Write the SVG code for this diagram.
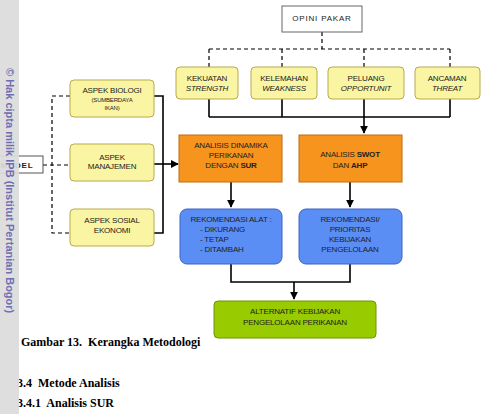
<svg xmlns="http://www.w3.org/2000/svg" width="481" height="414" viewBox="0 0 481 414">
<defs>
<style>
.t{font-family:"Liberation Sans",Arial,sans-serif;font-size:8px;fill:#222;text-anchor:middle;letter-spacing:-0.2px}
.s{font-size:6px}
.i{font-style:italic}
.b{font-weight:bold}
.yel{fill:#f9f5a3;stroke:#b8a94c;stroke-width:1}
.org{fill:#f7941d;stroke:#c06d10;stroke-width:1}
.blu{fill:#5b8ef5;stroke:#3a64c0;stroke-width:1}
.grn{fill:#99cc00;stroke:#6f9400;stroke-width:1}
.ln{fill:none;stroke:#000;stroke-width:1.6}
.dl{fill:none;stroke:#000;stroke-width:1.2;stroke-dasharray:4 3}
.cap{font-family:"Liberation Serif","Times New Roman",serif;font-size:12px;font-weight:bold;fill:#000}
</style>
<marker id="ah" viewBox="0 0 10 10" refX="9" refY="5" markerWidth="5" markerHeight="5" orient="auto-start-reverse">
<path d="M0,0 L10,5 L0,10 z" fill="#000"/>
</marker>
</defs>
<rect width="481" height="414" fill="#fff"/>

<g id="connectors">
<path class="dl" d="M322,32 V49 M209,49 H450 M209,49 V67 M282,49 V67 M364,49 V67 M450,49 V67"/>
<path class="ln" d="M209,99 V117 M282,99 V117 M450,99 V117 M209,117 H450"/>
<path class="ln" d="M364,99 V133" marker-end="url(#ah)"/>
<path class="dl" d="M43,165 H70 M70,96 H52 V233 H70"/>
<path class="ln" d="M154,96 H163 V233 H154"/>
<path class="ln" d="M154,164 H178" marker-end="url(#ah)"/>
<path class="ln" d="M231,182 V207" marker-end="url(#ah)"/>
<path class="ln" d="M350,182 V207" marker-end="url(#ah)"/>
<path class="ln" d="M231,264 V282 H350 V264"/>
<path class="ln" d="M294,282 V299" marker-end="url(#ah)"/>
</g>

<g id="model">
<rect x="-10" y="156" width="53" height="17" fill="#fff" stroke="#555"/>
<text class="t" x="17" y="168" style="font-weight:bold;letter-spacing:0.8px">MODEL</text>
</g>

<g id="opini">
<rect x="282" y="6" width="80" height="26" fill="#fff" stroke="#666"/>
<text class="t" x="322" y="21" style="letter-spacing:0.8px">OPINI PAKAR</text>
</g>

<g id="kekuatan">
<rect class="yel" x="176" y="67" width="62" height="32" rx="4"/>
<text class="t" x="207" y="81">KEKUATAN</text>
<text class="t i" x="207" y="91">STRENGTH</text>
</g>
<g id="kelemahan">
<rect class="yel" x="251" y="67" width="66" height="32" rx="4"/>
<text class="t" x="284" y="81">KELEMAHAN</text>
<text class="t i" x="284" y="91">WEAKNESS</text>
</g>
<g id="peluang">
<rect class="yel" x="328" y="67" width="76" height="32" rx="4"/>
<text class="t" x="366" y="81">PELUANG</text>
<text class="t i" x="366" y="91">OPPORTUNIT</text>
</g>
<g id="ancaman">
<rect class="yel" x="415" y="67" width="65" height="32" rx="4"/>
<text class="t" x="447" y="81">ANCAMAN</text>
<text class="t i" x="447" y="91">THREAT</text>
</g>

<g id="biologi">
<rect class="yel" x="70" y="80" width="84" height="37" rx="4"/>
<text class="t" x="112" y="93">ASPEK BIOLOGI</text>
<text class="t s" x="112" y="102">(SUMBERDAYA</text>
<text class="t s" x="112" y="110">IKAN)</text>
</g>
<g id="manajemen">
<rect class="yel" x="70" y="144" width="84" height="37" rx="4"/>
<text class="t" x="112" y="160">ASPEK</text>
<text class="t" x="112" y="169">MANAJEMEN</text>
</g>
<g id="sosial">
<rect class="yel" x="70" y="209" width="84" height="37" rx="4"/>
<text class="t" x="112" y="223">ASPEK SOSIAL</text>
<text class="t" x="112" y="233">EKONOMI</text>
</g>

<g id="dinamika">
<rect class="org" x="179" y="135" width="103" height="47"/>
<text class="t" x="231" y="148">ANALISIS DINAMIKA</text>
<text class="t" x="231" y="158">PERIKANAN</text>
<text class="t" x="231" y="168">DENGAN <tspan class="b">SUR</tspan></text>
</g>
<g id="swot">
<rect class="org" x="299" y="135" width="103" height="47"/>
<text class="t" x="350" y="157">ANALISIS <tspan class="b">SWOT</tspan></text>
<text class="t" x="350" y="168">DAN <tspan class="b">AHP</tspan></text>
</g>

<g id="rek-alat">
<rect class="blu" x="180" y="209" width="102" height="55" rx="7"/>
<text class="t" x="231" y="222">REKOMENDASI ALAT :</text>
<text class="t" x="200" y="232" style="text-anchor:start">-  DIKURANG</text>
<text class="t" x="200" y="242" style="text-anchor:start">-  TETAP</text>
<text class="t" x="200" y="252" style="text-anchor:start">-  DITAMBAH</text>
</g>
<g id="rek-prioritas">
<rect class="blu" x="299" y="209" width="103" height="55" rx="7"/>
<text class="t" x="350" y="222">REKOMENDASI/</text>
<text class="t" x="350" y="232">PRIORITAS</text>
<text class="t" x="350" y="242">KEBIJAKAN</text>
<text class="t" x="350" y="252">PENGELOLAAN</text>
</g>

<g id="alternatif">
<rect class="grn" x="214" y="301" width="162" height="37" rx="4"/>
<text class="t" x="295" y="314">ALTERNATIF KEBIJAKAN</text>
<text class="t" x="295" y="325">PENGELOLAAN PERIKANAN</text>
</g>

<text class="cap" x="21" y="346">Gambar 13.&#160; Kerangka Metodologi</text>
<text class="cap" x="17" y="387">3.4&#160; Metode Analisis</text>
<text class="cap" x="17" y="407">3.4.1&#160; Analisis SUR</text>

<g id="watermark">
<rect x="0" y="0" width="19" height="414" fill="#dcdcdc" fill-opacity="0.93"/>
<text x="68" y="-6" transform="rotate(90)" style="font-family:'Liberation Sans',Arial,sans-serif;font-size:11px;font-weight:bold;fill:#6e6eb4">© Hak cipta milik IPB (Institut Pertanian Bogor)</text>
</g>
</svg>
